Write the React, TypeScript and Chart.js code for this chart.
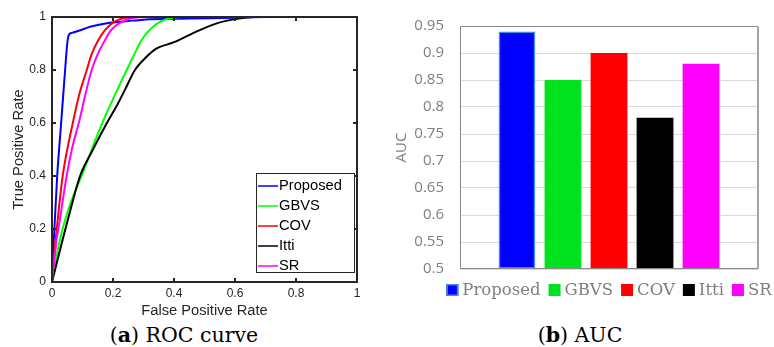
import React, { useEffect, useRef } from 'react';
import { Chart, registerables } from 'chart.js';

Chart.register(...registerables);

const SANS = '"Liberation Sans", Arial, sans-serif';
const SERIF = '"DejaVu Serif", serif';
const GREY_SANS = '"Open Sans", sans-serif';
const AXIS_INK = '#262626';
const AUC_INK = '#7f7f7f';

// ---------- (a) ROC curves: false positive rate vs. true positive rate ----------
const methodNames = ['Proposed', 'GBVS', 'COV', 'Itti', 'SR'];
const rocColors = ['#0000ff', '#00ff00', '#ff0000', '#000000', '#ff00ff'];

const proposedFpr = [0, 0.003, 0.007, 0.017, 0.03, 0.043, 0.05, 0.055, 0.065, 0.1, 0.125, 0.19, 0.25, 0.3, 0.45, 0.6, 0.7, 1];
const proposedTpr = [0, 0.1, 0.18, 0.4, 0.6, 0.8, 0.9, 0.932, 0.94, 0.953, 0.963, 0.978, 0.985, 0.99, 0.994, 0.997, 1, 1];

const gbvsFpr = [0, 0.026, 0.05, 0.075, 0.097, 0.13, 0.165, 0.2, 0.245, 0.27, 0.294, 0.315, 0.338, 0.36, 0.387, 0.43, 1];
const gbvsTpr = [0, 0.16, 0.26, 0.34, 0.4, 0.5, 0.6, 0.69, 0.8, 0.86, 0.913, 0.945, 0.97, 0.985, 0.995, 1, 1];

const covFpr = [0, 0.012, 0.02, 0.035, 0.05, 0.07, 0.09, 0.114, 0.13, 0.152, 0.17, 0.19, 0.21, 0.233, 0.27, 1];
const covTpr = [0, 0.16, 0.25, 0.4, 0.5, 0.61, 0.71, 0.8, 0.86, 0.913, 0.945, 0.97, 0.985, 0.995, 1, 1];

const ittiFpr = [0, 0.035, 0.06, 0.092, 0.13, 0.18, 0.21, 0.239, 0.272, 0.31, 0.338, 0.4, 0.47, 0.54, 0.6, 0.66, 1];
const ittiTpr = [0, 0.16, 0.27, 0.4, 0.49, 0.6, 0.66, 0.725, 0.8, 0.85, 0.878, 0.905, 0.943, 0.976, 0.992, 1, 1];

const srFpr = [0, 0.015, 0.025, 0.048, 0.065, 0.09, 0.11, 0.13, 0.15, 0.174, 0.19, 0.212, 0.235, 0.26, 0.32, 1];
const srTpr = [0, 0.16, 0.23, 0.4, 0.5, 0.61, 0.71, 0.8, 0.86, 0.913, 0.945, 0.97, 0.985, 0.995, 1, 1];

const rocFpr = [proposedFpr, gbvsFpr, covFpr, ittiFpr, srFpr];
const rocTpr = [proposedTpr, gbvsTpr, covTpr, ittiTpr, srTpr];

// ---------- (b) AUC per method ----------
const aucValues = [0.94, 0.85, 0.9, 0.78, 0.88];
const aucColors = ['#0000ff', '#00e21e', '#ff0000', '#000000', '#ff00ff'];
const aucBorders = ['#3d8fd9', '#00e21e', '#ff0000', '#000000', '#ff00ff'];
const aucBorderWidths = [1.5, 0, 0, 0, 0];
const aucAxisMin = 0.5;
const aucAxisMax = 0.95;
const aucAxisStep = 0.05;

// Short tick text: 0, 0.2, 1 / 0.5, 0.55, 0.9
const shortNumber = (v: any) => String(parseFloat(Number(v).toFixed(3)));

// Box with inward tick marks on all four sides
const rocFrame = {
  id: 'rocFrame',
  afterDatasetsDraw(chart: any) {
    const { ctx, chartArea, scales } = chart;
    const { left, right, top, bottom } = chartArea;
    const len = 4;
    ctx.save();
    ctx.strokeStyle = AXIS_INK;
    ctx.lineWidth = 2;
    ctx.beginPath();
    scales.x.ticks.forEach((t: any) => {
      const px = Math.round(scales.x.getPixelForValue(t.value));
      ctx.moveTo(px, bottom);
      ctx.lineTo(px, bottom - len);
      ctx.moveTo(px, top);
      ctx.lineTo(px, top + len);
    });
    scales.y.ticks.forEach((t: any) => {
      const py = Math.round(scales.y.getPixelForValue(t.value));
      ctx.moveTo(left, py);
      ctx.lineTo(left + len, py);
      ctx.moveTo(right, py);
      ctx.lineTo(right - len, py);
    });
    ctx.stroke();
    ctx.strokeRect(left, top, right - left, bottom - top);
    ctx.restore();
  },
};

// Legend box in the lower right corner of the plot
const rocLegend = {
  id: 'rocLegend',
  afterDraw(chart: any) {
    const { ctx, chartArea } = chart;
    const sets = chart.data.datasets;
    const w = 99;
    const rowH = 20;
    const h = sets.length * rowH;
    const x0 = chartArea.right - 2 - w;
    const y0 = chartArea.bottom - 9 - h;
    ctx.save();
    ctx.fillStyle = '#ffffff';
    ctx.fillRect(x0, y0, w, h);
    ctx.strokeStyle = AXIS_INK;
    ctx.lineWidth = 1;
    ctx.strokeRect(x0 + 0.5, y0 + 0.5, w - 1, h - 1);
    ctx.font = `14.7px ${SANS}`;
    ctx.textBaseline = 'middle';
    ctx.textAlign = 'left';
    sets.forEach((ds: any, i: number) => {
      const cy = y0 + 13 + i * rowH;
      ctx.strokeStyle = ds.borderColor;
      ctx.lineWidth = 1.5;
      ctx.beginPath();
      ctx.moveTo(x0 + 2, cy);
      ctx.lineTo(x0 + 22, cy);
      ctx.stroke();
      ctx.fillStyle = '#000000';
      ctx.fillText(ds.label, x0 + 23, cy);
    });
    ctx.restore();
  },
};

// Plot border: grey box with a heavier right edge
const aucFrame = {
  id: 'aucFrame',
  afterDatasetsDraw(chart: any) {
    const { ctx, chartArea } = chart;
    const { left, right, top, bottom } = chartArea;
    ctx.save();
    ctx.strokeStyle = '#898989';
    ctx.lineWidth = 1;
    ctx.beginPath();
    ctx.moveTo(right, top + 0.5);
    ctx.lineTo(left + 0.5, top + 0.5);
    ctx.lineTo(left + 0.5, bottom - 0.5);
    ctx.lineTo(right, bottom - 0.5);
    ctx.stroke();
    ctx.strokeStyle = '#a6a6a6';
    ctx.lineWidth = 2;
    ctx.beginPath();
    ctx.moveTo(right, top);
    ctx.lineTo(right, bottom);
    ctx.stroke();
    ctx.restore();
  },
};

// Row of coloured squares with method names under the bars
const aucLegend = {
  id: 'aucLegend',
  afterDraw(chart: any) {
    const { ctx, chartArea } = chart;
    const sets = chart.data.datasets;
    const box = 12;
    const textGap = 4;
    const itemGap = 8;
    ctx.save();
    ctx.font = `16.5px ${SERIF}`;
    const widths = sets.map((ds: any) => box + textGap + ctx.measureText(ds.label).width);
    const total = widths.reduce((a: number, b: number) => a + b, 0) + itemGap * (sets.length - 1);
    let x = (chartArea.left + chartArea.right) / 2 - total / 2;
    const boxTop = chartArea.bottom + 15;
    const baseline = chartArea.bottom + 26;
    ctx.textBaseline = 'alphabetic';
    ctx.textAlign = 'left';
    sets.forEach((ds: any, i: number) => {
      ctx.fillStyle = ds.backgroundColor;
      ctx.fillRect(x, boxTop, box, box);
      if (ds.borderWidth > 0) {
        ctx.strokeStyle = ds.borderColor;
        ctx.lineWidth = ds.borderWidth;
        ctx.strokeRect(x + 0.75, boxTop + 0.75, box - 1.5, box - 1.5);
      }
      ctx.fillStyle = AUC_INK;
      ctx.fillText(ds.label, x + box + textGap, baseline);
      x += widths[i] + itemGap;
    });
    ctx.restore();
  },
};

function rocConfig(): any {
  return {
    type: 'line',
    data: {
      datasets: methodNames.map((name, i) => ({
        label: name,
        data: rocFpr[i].map((x, j) => ({ x, y: rocTpr[i][j] })),
        borderColor: rocColors[i],
        backgroundColor: rocColors[i],
        borderWidth: 2,
        pointRadius: 0,
        fill: false,
        cubicInterpolationMode: 'monotone',
        order: methodNames.length - i,
      })),
    },
    options: {
      responsive: false,
      animation: false,
      devicePixelRatio: 1,
      layout: { padding: { left: 0, top: 17, right: 15, bottom: 0 } },
      plugins: { legend: { display: false }, tooltip: { enabled: false }, title: { display: false } },
      scales: {
        x: {
          type: 'linear',
          min: 0,
          max: 1,
          grid: { display: false, drawTicks: false },
          border: { display: false },
          ticks: {
            stepSize: 0.2,
            padding: 4,
            color: AXIS_INK,
            font: { family: SANS, size: 12 },
            maxRotation: 0,
            callback: shortNumber,
          },
          title: {
            display: true,
            text: 'False Positive Rate',
            color: AXIS_INK,
            font: { family: SANS, size: 14.7 },
            padding: { top: 0, bottom: 0 },
          },
          afterFit: (s: any) => { s.height = 38; },
        },
        y: {
          type: 'linear',
          min: 0,
          max: 1,
          grid: { display: false, drawTicks: false },
          border: { display: false },
          ticks: { stepSize: 0.2, padding: 6, color: AXIS_INK, font: { family: SANS, size: 12 }, callback: shortNumber },
          title: {
            display: true,
            text: 'True Positive Rate',
            color: AXIS_INK,
            font: { family: SANS, size: 14.7 },
            padding: { top: 10, bottom: 0 },
          },
          afterFit: (s: any) => { s.width = 52; },
        },
      },
    },
    plugins: [rocFrame, rocLegend],
  };
}

function aucConfig(): any {
  return {
    type: 'bar',
    data: {
      labels: ['AUC'],
      datasets: methodNames.map((name, i) => ({
        label: name,
        data: [aucValues[i]],
        backgroundColor: aucColors[i],
        borderColor: aucBorders[i],
        borderWidth: aucBorderWidths[i],
        borderSkipped: false,
        base: aucAxisMin,
        categoryPercentage: 0.772,
        barPercentage: 0.8,
      })),
    },
    options: {
      responsive: false,
      animation: false,
      devicePixelRatio: 1,
      layout: { padding: { left: 0, top: 26, right: 16, bottom: 36 } },
      plugins: { legend: { display: false }, tooltip: { enabled: false }, title: { display: false } },
      scales: {
        x: { display: false },
        y: {
          min: aucAxisMin,
          max: aucAxisMax,
          grid: { color: '#d9d9d9', lineWidth: 1, drawTicks: false },
          border: { display: false },
          ticks: {
            stepSize: aucAxisStep,
            padding: 16,
            color: AUC_INK,
            font: { family: GREY_SANS, size: 15 },
            callback: shortNumber,
          },
          title: {
            display: true,
            text: 'AUC',
            color: AUC_INK,
            font: { family: GREY_SANS, size: 15 },
            padding: { top: 13, bottom: 0 },
          },
          afterFit: (s: any) => { s.width = 80; },
        },
      },
    },
    plugins: [aucFrame, aucLegend],
  };
}

const captionStyle: React.CSSProperties = {
  position: 'absolute',
  top: 323,
  textAlign: 'center',
  fontFamily: SERIF,
  fontSize: '20.5px',
  lineHeight: '24px',
  color: '#000',
  whiteSpace: 'nowrap',
};

export default function App() {
  const rocRef = useRef<HTMLCanvasElement>(null);
  const aucRef = useRef<HTMLCanvasElement>(null);

  useEffect(() => {
    const roc = new Chart(rocRef.current as HTMLCanvasElement, rocConfig());
    const auc = new Chart(aucRef.current as HTMLCanvasElement, aucConfig());
    return () => {
      roc.destroy();
      auc.destroy();
    };
  }, []);

  return (
    <div style={{ position: 'fixed', left: 0, top: 0, width: 774, height: 347, overflow: 'hidden', background: '#fff' }}>
      <canvas
        ref={rocRef}
        width={372}
        height={320}
        style={{ position: 'absolute', left: 0, top: 0, width: 372, height: 320 }}
      />
      <canvas
        ref={aucRef}
        width={394}
        height={305}
        style={{ position: 'absolute', left: 380, top: 0, width: 394, height: 305 }}
      />
      <div style={{ ...captionStyle, left: 0, width: 368 }}>
        (<b>a</b>) ROC curve
      </div>
      <div style={{ ...captionStyle, left: 480, width: 200 }}>
        (<b>b</b>) AUC
      </div>
    </div>
  );
}
